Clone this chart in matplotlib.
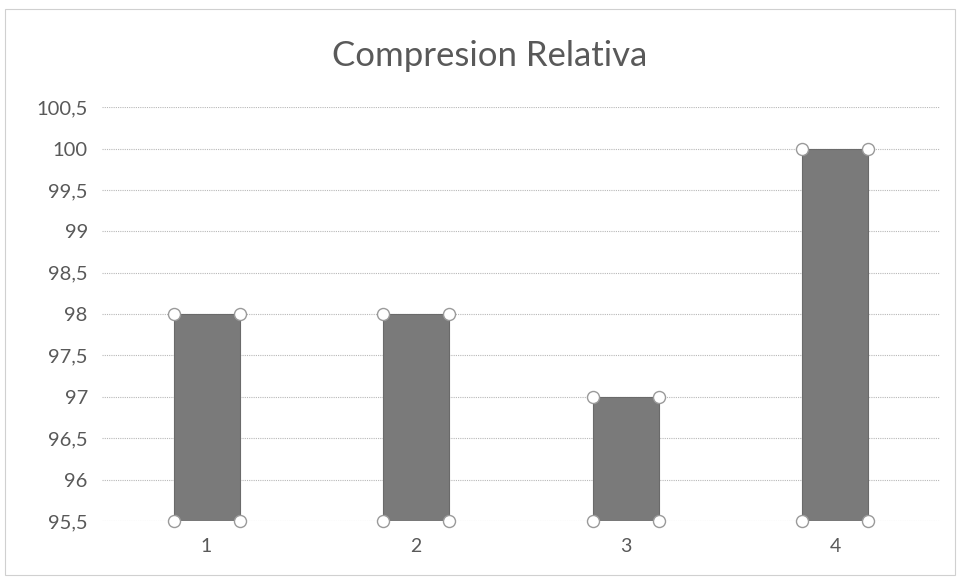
import numpy as np
import matplotlib.pyplot as plt
from matplotlib.patches import Rectangle

# ── Data ──────────────────────────────────────────────────────────────────────
categories = ["1", "2", "3", "4"]
values = [98, 98, 97, 100]
y_min, y_max, y_step = 95.5, 100.5, 0.5

plt.rcParams['font.family'] = ['Lato', 'DejaVu Sans']

fig = plt.figure(figsize=(9.6, 5.78), dpi=100)
ax = fig.add_axes([0.106, 0.0986, 0.873, 0.716])

x = np.arange(len(categories))
heights = np.array(values) - y_min
ax.bar(x, heights, bottom=y_min, width=0.315, color='#7a7a7a',
       edgecolor='#6a6a6a', linewidth=0.8, zorder=3)

# selection handles at bar corners
half = 0.315 / 2
for xi, v in zip(x, values):
    for cx in (xi - half, xi + half):
        ax.scatter([cx, cx], [y_min, v], s=75, facecolor='white',
                   edgecolor='#9a9a9a', linewidth=1.0, zorder=4,
                   clip_on=False)

ax.set_xlim(-0.5, len(categories) - 0.5)
ax.set_ylim(y_min, y_max)
ticks = np.arange(y_min, y_max + 0.01, y_step)
ax.set_yticks(ticks)
ax.set_yticklabels([f"{t:g}".replace('.', ',') for t in ticks],
                   fontsize=14.5, color='#595959')
ax.set_xticks(x)
ax.set_xticklabels(categories, fontsize=14, color='#595959')
ax.tick_params(axis='y', length=0, pad=10)
ax.tick_params(axis='x', length=0, pad=12)
ax.grid(axis='y', color='#b8b8b8', linestyle=(0, (1, 1)), linewidth=0.8,
        zorder=0)
for s in ax.spines.values():
    s.set_visible(False)

fig.text(0.51, 0.903, "Compresion Relativa", ha='center', va='center',
         fontsize=25, color='#595959')

# chart border
fig.patches.append(Rectangle((0.005, 0.005), 0.99, 0.98,
                             transform=fig.transFigure, fill=False,
                             edgecolor='#d0d0d0', linewidth=0.8))

fig.savefig("out.png", dpi=100)
